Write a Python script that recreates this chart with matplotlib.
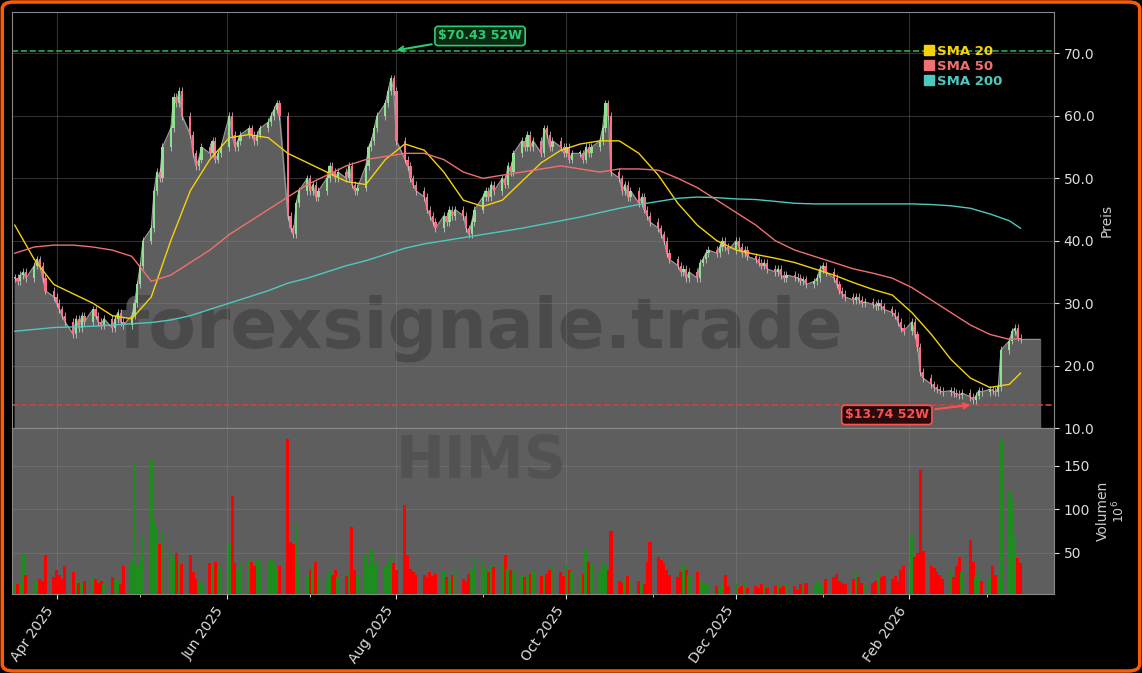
import numpy as np
import pandas as pd
import matplotlib
matplotlib.use('Agg')
import matplotlib.pyplot as plt
import matplotlib.dates as mdates
from matplotlib.patches import FancyBboxPatch, Rectangle
from matplotlib.lines import Line2D

# daily closes, one row per week (Mon-Fri)
closes = [
    34, 33.5, 34.5, 35, 34,  36, 37, 36, 34, 32,  31, 30, 29, 28, 27,
    25, 27.5, 26, 28, 27,  29, 28, 27, 26.5, 27.5,  26, 27.5, 28.5, 27, 26.5,
    28, 30, 33, 36, 40,  42, 48, 51, 50, 55,  58, 63, 62, 64, 60,
    57, 54, 52, 53, 55,  54, 56, 53, 54, 55,  60, 57, 55, 56, 57,
    58, 57, 56, 57, 58,  59, 60, 61, 62, 60,  44, 42, 41, 46, 48,
    50, 48, 49, 47, 48,  50, 52, 51, 50, 51,  50, 52, 49, 48, 48.5,
    52, 55, 56, 58, 60,  62, 64, 66, 64, 56,  53, 52, 50, 49, 48,
    47, 45, 44, 43, 42,  44, 43, 45, 44, 45,  44, 42, 41, 43, 45,
    47, 48, 47, 49, 48,  50, 49, 52, 51, 54,  56, 55, 57, 55, 56,
    54, 58, 57, 55, 56,  55, 54, 55, 53, 54,  54, 53, 55, 54, 55,
    56, 58, 62, 60, 51,  50, 48, 49, 47, 48,  46, 47, 45, 44, 43,
    42, 41, 40, 38, 37,  36, 35, 35.5, 34, 35,  34, 36.5, 37, 38, 38.5,
    38, 39, 40, 39, 38.5,  40, 39, 38, 38.5, 37.5,  37, 36.5, 36, 36.5, 35.5,
    35, 35.5, 34.5, 34, 34.5,  34.2, 34, 33.5, 33.8, 33,  33.5, 34, 35.5, 36, 35,
    34, 33, 32, 31.5, 31,  30.5, 31, 30.5, 30, 30.2,  29.8, 29.5, 30, 29.5, 29,
    28.5, 28, 27, 26, 25.5,  27, 25, 23, 19, 18,  17, 16.5, 16.2, 16, 15.8,
    16, 15.6, 15.5, 15.3, 15.6,  15, 14.5, 15.2, 16, 15.8,  16.2, 16, 15.8, 16.5, 22.5,
    24, 25.5, 26, 24.5, 24.2,
]

# volume in millions
volumes = [
    16, 15, 18, 50, 25,  18, 17, 20, 18, 48,  22, 30, 25, 20, 35,
    28, 20, 16, 15, 18,  22, 20, 16, 18, 14,  22, 20, 18, 15, 35,
    40, 152, 35, 45, 70,  158, 85, 80, 60, 75,  55, 45, 50, 38, 37,
    48, 28, 20, 18, 15,  38, 35, 40, 30, 35,  60, 115, 38, 30, 40,
    42, 40, 35, 42, 38,  40, 42, 38, 30, 35,  180, 62, 60, 84, 36,
    25, 30, 35, 40, 22,  20, 28, 25, 30, 22,  24, 26, 80, 30, 25,
    48, 35, 55, 38, 40,  36, 40, 48, 38, 30,  105, 48, 32, 28, 25,
    25, 22, 28, 24, 26,  28, 22, 20, 25, 30,  20, 18, 26, 32, 44,
    40, 30, 28, 36, 34,  38, 48, 32, 30, 28,  25, 22, 24, 26, 28,
    24, 22, 26, 30, 35,  28, 24, 36, 30, 28,  24, 26, 55, 40, 38,
    28, 40, 35, 30, 75,  18, 16, 20, 24, 18,  18, 16, 15, 40, 62,
    45, 42, 38, 30, 25,  22, 28, 35, 30, 25,  28, 20, 16, 15, 14,
    12, 10, 14, 25, 12,  14, 10, 12, 18, 10,  12, 10, 14, 12, 10,
    12, 14, 10, 12, 14,
    12, 8, 14, 10, 16,  12, 18, 14, 10, 20,  22, 26, 18, 16, 14,
    20, 28, 22, 16, 14,  16, 18, 28, 22, 24,  20, 24, 18, 30, 35,
    70, 45, 50, 145, 52,  35, 33, 28, 25, 20,  30, 22, 35, 45, 28,
    65, 40, 22, 30, 18,  22, 35, 25, 20, 180,
    120, 112, 70, 44, 38,
]

# moving averages read weekly (Mondays) plus last day
sma20 = [42.5, 37, 33, 31.5, 30, 28, 27.5, 31, 40, 48,
         53, 56.5, 57, 56.5, 54, 52.5, 51, 49.5, 49, 53,
         55.5, 54.5, 51, 46.5, 45.5, 46.5, 49.5, 52.5, 54.5, 55.5,
         56, 56, 54, 50.5, 46, 42.5, 40, 38.5, 37.8, 37.2,
         36.5, 35.5, 34.5, 33.3, 32.2, 31.3, 28.5, 25, 21, 18,
         16.5, 17, 18.8]
sma50 = [38, 39, 39.3, 39.3, 39, 38.5, 37.5, 33.5, 34.5, 36.5,
         38.5, 41, 43, 45, 47, 49, 50.5, 52, 53, 53.5,
         54, 54, 53, 51, 50, 50.5, 51, 51.5, 52, 51.5,
         51, 51.5, 51.5, 51.3, 50, 48.5, 46.5, 44.5, 42.5, 40,
         38.5, 37.5, 36.5, 35.5, 34.8, 34, 32.5, 30.5, 28.5, 26.5,
         25, 24.2, 24.3]
sma200 = [25.5, 25.8, 26.1, 26.2, 26.3, 26.5, 26.7, 26.9, 27.3, 28.0,
          29.0, 30.0, 31.0, 32.0, 33.2, 34.0, 35.0, 36.0, 36.8, 37.8,
          38.8, 39.5, 40.0, 40.5, 41.0, 41.5, 42.0, 42.6, 43.2, 43.8,
          44.5, 45.2, 45.8, 46.3, 46.8, 47.0, 46.9, 46.7, 46.6, 46.3,
          46.0, 45.9, 45.9, 45.9, 45.9, 45.9, 45.9, 45.8, 45.6, 45.2,
          44.3, 43.2, 42.0]

high52 = 70.43
low52 = 13.74
ticker = 'HIMS'

days = pd.bdate_range('2025-03-17', '2026-03-13')
n = min(len(days), len(closes), len(volumes))
days = days[:n]
c = np.array(closes[:n], dtype=float)
v = np.array(volumes[:n], dtype=float)
o = np.r_[c[0], c[:-1]]
wk = list(pd.date_range('2025-03-17', periods=52, freq='W-MON')) + [pd.Timestamp('2026-03-13')]

x = mdates.date2num(days)
xw = mdates.date2num(wk)

bg = 'black'
fill_c = '#5e5e5e'
fig = plt.figure(figsize=(11.42, 6.73), dpi=100, facecolor=bg)
axp = fig.add_axes([0.0105, 0.364, 0.9124, 0.6178], facecolor=bg)
axv = fig.add_axes([0.0105, 0.1174, 0.9124, 0.2466], facecolor=fill_c, sharex=axp)

# price area
xf = np.r_[x, mdates.date2num(pd.Timestamp('2026-03-20'))]
yf = np.r_[c, c[-1]]
axp.fill_between(xf, yf, 10, color=fill_c, zorder=1)
axp.plot(xf, yf, color='#9a9a9a', lw=0.8, zorder=2)

up = c >= o
for xi, oi, ci, u in zip(x, o, c, up):
    lo, hi = min(oi, ci), max(oi, ci)
    axp.vlines(xi, lo - 0.6, hi + 0.6, color='#d8d8d8', lw=0.5, zorder=3)
    axp.add_patch(Rectangle((xi - 0.4, lo), 0.8, max(hi - lo, 0.15),
                            facecolor='#8fe08f' if u else '#ff6f8a',
                            edgecolor='none', zorder=4))

axp.plot(xw, sma20, color='#f5d20a', lw=1, zorder=5)
axp.plot(xw, sma50, color='#f07070', lw=1, zorder=5)
axp.plot(xw, sma200, color='#4ec9c0', lw=1, zorder=5)

axp.axhline(high52, color='#2ea84f', ls='--', lw=1.2, zorder=2)
axp.axhline(low52, color='#d04040', ls='--', lw=1.2, zorder=2)

xhi = mdates.date2num(pd.Timestamp('2025-07-31'))
axp.annotate(f'${high52:.2f} 52W', xy=(xhi, high52), xytext=(xhi + 31, 72.8),
             color='#2ecc71', fontsize=9, fontweight='bold', ha='center', va='center',
             bbox=dict(boxstyle='round,pad=0.25', fc='#0b2a14', ec='#2ecc71', lw=1.2),
             arrowprops=dict(arrowstyle='->', color='#2ecc71', lw=1.5), zorder=8)
xlo = mdates.date2num(pd.Timestamp('2026-02-24'))
axp.annotate(f'${low52:.2f} 52W', xy=(xlo, low52), xytext=(xlo - 31, 12.1),
             color='#ff5050', fontsize=9, fontweight='bold', ha='center', va='center',
             bbox=dict(boxstyle='round,pad=0.25', fc='#2a0b0b', ec='#ff5050', lw=1.2),
             arrowprops=dict(arrowstyle='->', color='#ff5050', lw=1.5), zorder=8)

axp.text(0.45, 0.24, 'forexsignale.trade', transform=axp.transAxes, fontsize=50,
         fontweight='bold', color='#4a4a4a', ha='center', va='center', zorder=1.5)

axp.set_ylim(10, 76.6)
axp.set_yticks(np.arange(10, 71, 10))
axp.yaxis.set_major_formatter(plt.FormatStrFormatter('%.1f'))
axp.yaxis.tick_right()
axp.yaxis.set_label_position('right')
axp.set_ylabel('Preis', color='#cccccc', fontsize=10)
axp.tick_params(axis='y', colors='#dddddd', labelsize=10)
axp.tick_params(axis='x', labelbottom=False, length=0)
axp.grid(True, color='#888888', alpha=0.35, lw=0.8)
for s in axp.spines.values():
    s.set_color('#888888')

labels = ['SMA 20', 'SMA 50', 'SMA 200']
cols = ['#f5d20a', '#f07070', '#4ec9c0']
handles = [Line2D([], [], marker='s', ls='none', color=cl, markersize=7) for cl in cols]
leg = axp.legend(handles, labels, loc='upper left', bbox_to_anchor=(0.865, 0.95), frameon=False,
                 handlelength=0.6, handletextpad=0.3, labelspacing=0.15,
                 prop={'weight': 'bold', 'size': 9.5})
for t, cl in zip(leg.get_texts(), cols):
    t.set_color(cl)

# volume
vcol = np.where(up, '#1e8c1e', '#ff0000')
axv.bar(x, v, width=1.1, color=vcol, zorder=3)
axv.text(0.45, 0.8, ticker, transform=axv.transAxes, fontsize=42, fontweight='bold',
         color='#525252', ha='center', va='center', zorder=2)
axv.set_ylim(3, 193)
axv.set_yticks([50, 100, 150])
axv.yaxis.tick_right()
axv.yaxis.set_label_position('right')
axv.set_ylabel('Volumen', color='#cccccc', fontsize=10)
axv.text(1.062, 0.5, '$10^6$', transform=axv.transAxes, rotation=90, color='#cccccc',
         fontsize=9, va='center', ha='center')
axv.tick_params(axis='y', colors='#dddddd', labelsize=10)
axv.tick_params(axis='x', colors='#dddddd', labelsize=10)
axv.grid(True, color='#888888', alpha=0.35, lw=0.8)
for s in axv.spines.values():
    s.set_color('#888888')

axv.set_xlim(mdates.date2num(pd.Timestamp('2025-03-16')), mdates.date2num(pd.Timestamp('2026-03-25')))
axv.xaxis.set_major_locator(mdates.MonthLocator(bymonth=[2, 4, 6, 8, 10, 12]))
axv.xaxis.set_minor_locator(mdates.MonthLocator())
axv.xaxis.set_major_formatter(mdates.DateFormatter('%b %Y'))
axv.tick_params(axis='x', which='minor', colors='#dddddd')
plt.setp(axv.get_xticklabels(), rotation=55, ha='right')

fig.patches.append(FancyBboxPatch((0.002, 0.003), 0.996, 0.994, boxstyle='round,pad=0,rounding_size=0.01',
                                  transform=fig.transFigure, fc='none', ec='#ff5a00', lw=2.5))

fig.savefig('out.png', dpi=100, facecolor=bg)
